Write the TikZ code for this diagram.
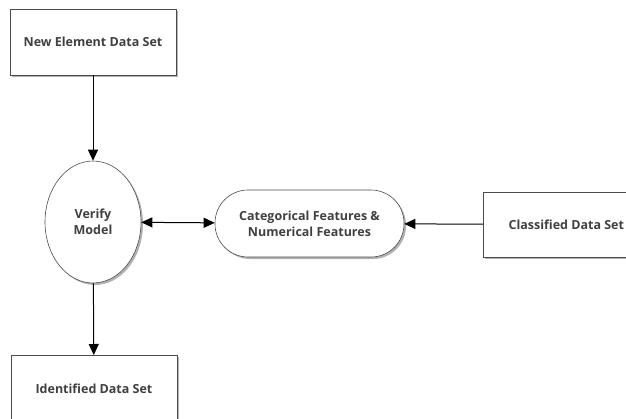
\documentclass[tikz,border=0pt]{standalone}
\usepackage{fontspec}
\setmainfont{Open Sans}
\usetikzlibrary{shapes.geometric,shadows,arrows.meta}
\begin{document}
\begin{tikzpicture}[x=1pt,y=-1pt,
  shade/.style={drop shadow={shadow xshift=2pt,shadow yshift=-2pt,opacity=0.5,fill=black!60}},
  boxnode/.style={draw=black!70,line width=0.6pt,fill=white,shade,font=\bfseries\fontsize{12.5}{16}\selectfont,text=black!75},
  conn/.style={line width=1pt,-{Triangle[length=11pt,width=10pt]}},
  conn2/.style={line width=1pt,{Triangle[length=11pt,width=10pt]}-{Triangle[length=11pt,width=10pt]}}]
\useasboundingbox (0,0) rectangle (626,418);
\clip (0,0) rectangle (626,418);
\node[boxnode,minimum width=166pt,minimum height=66pt] (new) at (93,42) {New Element Data Set};
\node[boxnode,ellipse,minimum width=96pt,minimum height=122pt,align=center,inner sep=0pt] (verify) at (93,222) {Verify\\Model};
\node[boxnode,rounded corners=33pt,minimum width=189pt,minimum height=67pt,align=center] (feat) at (309.5,223.5) {Categorical Features \&\\Numerical Features};
\node[boxnode,minimum width=166pt,minimum height=65pt,anchor=west] (class) at (483,224.5) {Classified Data Set};
\node[boxnode,minimum width=166pt,minimum height=66pt,anchor=north] (ident) at (94,355) {Identified Data Set};
\draw[conn] (new) -- (verify);
\draw[conn] (verify) -- (ident);
\draw[conn2] (verify) -- (feat);
\draw[conn] (class) -- (feat);
\end{tikzpicture}
\end{document}
